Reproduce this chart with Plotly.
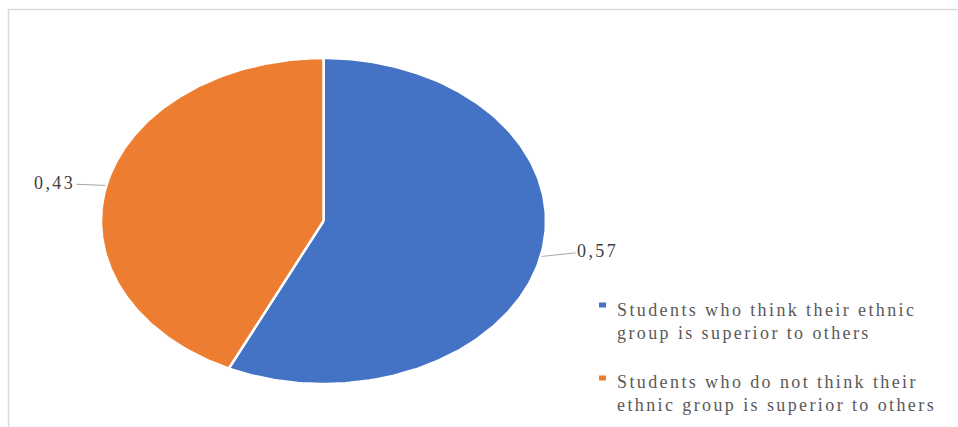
import numpy as np
import plotly.graph_objects as go

# Share of students by opinion about their own ethnic group
categories = [
    "Students who think their ethnic group is superior to others",
    "Students who do not think their ethnic group is superior to others",
]
legend_lines = [
    ["Students who think their ethnic", "group is superior to others"],
    ["Students who do not think their", "ethnic group is superior to others"],
]
shares = [0.57, 0.43]
colors = ["#4472C4", "#ED7D31"]

W, H = 958, 427
# pixel box of the pie (ellipse), mapped onto the unit circle via axis domains
PIE_LEFT, PIE_RIGHT, PIE_TOP, PIE_BOTTOM = 101, 546, 58, 384
SPACING = "letter-spacing:2.4px"


def spaced(s):
    return f'<span style="{SPACING}">{s}</span>'


fig = go.Figure()

total = sum(shares)
start = 0.0
mids = []
for name, v, c in zip(categories, shares, colors):
    a0 = start / total * 2 * np.pi
    a1 = (start + v) / total * 2 * np.pi
    t = np.linspace(a0, a1, 200)
    # clockwise from 12 o'clock
    xs = np.concatenate([[0.0], np.sin(t), [0.0]])
    ys = np.concatenate([[0.0], np.cos(t), [0.0]])
    fig.add_trace(go.Scatter(
        x=xs, y=ys, mode="lines", fill="toself", fillcolor=c,
        line=dict(color="white", width=2.5), name=name,
        hoverinfo="name", showlegend=False,
    ))
    mids.append((a0 + a1) / 2)
    start += v

label_font = dict(family="Liberation Serif, Times New Roman, serif", size=18, color="#404040")
offsets = [(57, -6), (-52, -2)]
for v, m, (ax, ay) in zip(shares, mids, offsets):
    fig.add_annotation(
        x=np.sin(m), y=np.cos(m), xref="x", yref="y",
        text=spaced(f"{v:.2f}".replace(".", ",")),
        showarrow=True, arrowhead=0, arrowwidth=1, arrowcolor="#a6a6a6",
        ax=ax, ay=ay, standoff=1, font=label_font,
    )

# legend: square keys with wrapped labels
legend_font = dict(family="Liberation Serif, Times New Roman, serif", size=18, color="#595959")
key_y = [305, 378]
text_top = [298, 370]
for lines, c, ky, ty in zip(legend_lines, colors, key_y, text_top):
    fig.add_shape(
        type="rect", xref="paper", yref="paper",
        x0=599 / W, x1=606 / W, y0=1 - (ky + 2.5) / H, y1=1 - (ky - 2.5) / H,
        fillcolor=c, line=dict(width=0),
    )
    fig.add_annotation(
        x=615 / W, y=1 - ty / H, xref="paper", yref="paper",
        xanchor="left", yanchor="top", align="left",
        text="<br>".join(spaced(s) for s in lines),
        showarrow=False, font=legend_font,
    )

# chart area border
fig.add_shape(
    type="rect", xref="paper", yref="paper",
    x0=8.5 / W, x1=1.02, y0=-0.02, y1=1 - 9.5 / H,
    line=dict(color="#d9d9d9", width=1.5), fillcolor="rgba(0,0,0,0)",
    layer="below",
)

fig.update_layout(
    width=W, height=H,
    margin=dict(l=0, r=0, t=0, b=0),
    paper_bgcolor="white", plot_bgcolor="white",
    showlegend=False,
    xaxis=dict(range=[-1, 1], domain=[PIE_LEFT / W, PIE_RIGHT / W],
               visible=False, fixedrange=True),
    yaxis=dict(range=[-1, 1], domain=[1 - PIE_BOTTOM / H, 1 - PIE_TOP / H],
               visible=False, fixedrange=True),
)

fig.write_html("out.html")
